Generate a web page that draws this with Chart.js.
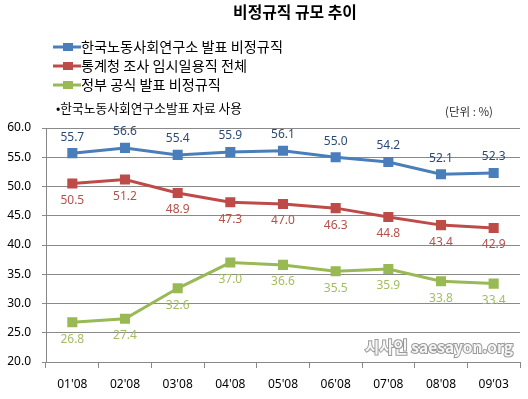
<!DOCTYPE html>
<html><head><meta charset="utf-8">
<script src="https://cdn.jsdelivr.net/npm/chart.js@4/dist/chart.umd.min.js"></script>
<style>html,body{margin:0;padding:0;background:#fff}#wrap{width:528px;height:399px}</style>
</head><body><div id="wrap"><canvas id="c" width="528" height="399"></canvas></div>
<script>
const categories = ["01'08","02'08","03'08","04'08","05'08","06'08","07'08","08'08","09'03"];
const kliValues = [55.7,56.6,55.4,55.9,56.1,55.0,54.2,52.1,52.3];
const nsoValues = [50.5,51.2,48.9,47.3,47.0,46.3,44.8,43.4,42.9];
const govValues = [26.8,27.4,32.6,37.0,36.6,35.5,35.9,33.8,33.4];
const seriesNames = ["한국노동사회연구소 발표 비정규직","통계청 조사 임시일용직 전체","정부 공식 발표 비정규직"];
const titleText = "비정규직 규모 추이";
const noteText = "•한국노동사회연구소발표 자료 사용";
const unitText = "(단위 : %)";
const watermarkText = "시사인 saesayon.org";
const yTicks = [20,25,30,35,40,45,50,55,60];

const lineColors = ["#4A7EBB","#BE4B48","#98B954"];
const labelColors = ["#2B4A74","#B5504C","#A3BD62"];
const labelPos = ["above","below","below"];

const FONT = "'Noto Sans CJK KR','Noto Sans',sans-serif";

function fitFont(ctx, text, targetW, weight, minS, maxS){
  ctx.font = weight + " 20px " + FONT;
  const w = ctx.measureText(text).width;
  let s = 20 * targetW / w;
  s = Math.max(minS, Math.min(maxS, s));
  ctx.font = weight + " " + s.toFixed(2) + "px " + FONT;
}

const decor = {
  id:'decor',
  afterDraw(chart){
    const ctx = chart.ctx;
    ctx.save();
    // title
    ctx.fillStyle = '#000';
    fitFont(ctx, titleText, 124, 'bold', 12, 17);
    ctx.textAlign = 'center'; ctx.textBaseline = 'middle';
    ctx.fillText(titleText, 295, 12);
    // legend
    ctx.textAlign = 'left';
    fitFont(ctx, seriesNames[0], 202, 'normal', 11, 15);
    chart.data.datasets.forEach((ds,i)=>{
      const y = 47 + i*19;
      ctx.strokeStyle = ds.borderColor; ctx.lineWidth = 3;
      ctx.beginPath(); ctx.moveTo(53,y); ctx.lineTo(81,y); ctx.stroke();
      ctx.fillStyle = ds.borderColor;
      ctx.fillRect(63,y-4,10,8);
      ctx.fillStyle = '#000';
      ctx.fillText(ds.label, 81, y);
    });
    fitFont(ctx, noteText, 186, 'normal', 10, 14);
    ctx.fillStyle = '#000';
    ctx.fillText(noteText, 56, 108);
    fitFont(ctx, unitText, 48, 'normal', 9, 13);
    ctx.fillStyle = '#333';
    ctx.fillText(unitText, 445, 112);
    // watermark
    fitFont(ctx, watermarkText, 148, 'bold', 11, 17);
    ctx.lineWidth = 2;
    ctx.strokeStyle = '#9a9a9a';
    ctx.strokeText(watermarkText, 365, 347);
    ctx.fillStyle = '#f6f6f6';
    ctx.fillText(watermarkText, 365, 347);
    // data labels
    ctx.font = "12px 'Noto Sans',sans-serif";
    ctx.textAlign = 'center';
    chart.data.datasets.forEach((ds,i)=>{
      const meta = chart.getDatasetMeta(i);
      ctx.fillStyle = labelColors[i];
      meta.data.forEach((pt,j)=>{
        const v = ds.data[j].toFixed(1);
        const dy = labelPos[i]==='above' ? -16 : 17;
        ctx.fillText(v, pt.x, pt.y + dy);
      });
    });
    ctx.restore();
  }
};

const mk = (i,data)=>({label:seriesNames[i],data,borderColor:lineColors[i],backgroundColor:lineColors[i],
  borderWidth:3,pointStyle:'rect',pointRadius:5,pointHoverRadius:5,tension:0});

new Chart(document.getElementById('c'),{
  type:'line',
  data:{labels:categories,datasets:[mk(0,kliValues),mk(1,nsoValues),mk(2,govValues)]},
  options:{
    responsive:false,animation:false,
    layout:{padding:{top:128,right:5,left:0,bottom:0}},
    plugins:{legend:{display:false},title:{display:false},tooltip:{enabled:false}},
    scales:{
      x:{offset:true,
        grid:{display:true,drawOnChartArea:false,drawTicks:true,tickLength:6,color:'#888',offset:true},
        border:{display:true,color:'#888'},
        ticks:{color:'#000',font:{size:12,family:"'Noto Sans',sans-serif"},padding:9},
        afterFit(s){s.height=37;}
      },
      y:{min:20,max:60,
        afterBuildTicks(s){s.ticks=yTicks.map(v=>({value:v}));},
        grid:{color:'#8a8a8a',drawTicks:true,tickLength:4},
        border:{display:true,color:'#888'},
        ticks:{color:'#000',font:{size:12,family:"'Noto Sans',sans-serif"},padding:11,callback:v=>Number(v).toFixed(1)},
        afterFit(s){s.width=46;}
      }
    }
  },
  plugins:[decor]
});
</script></body></html>
